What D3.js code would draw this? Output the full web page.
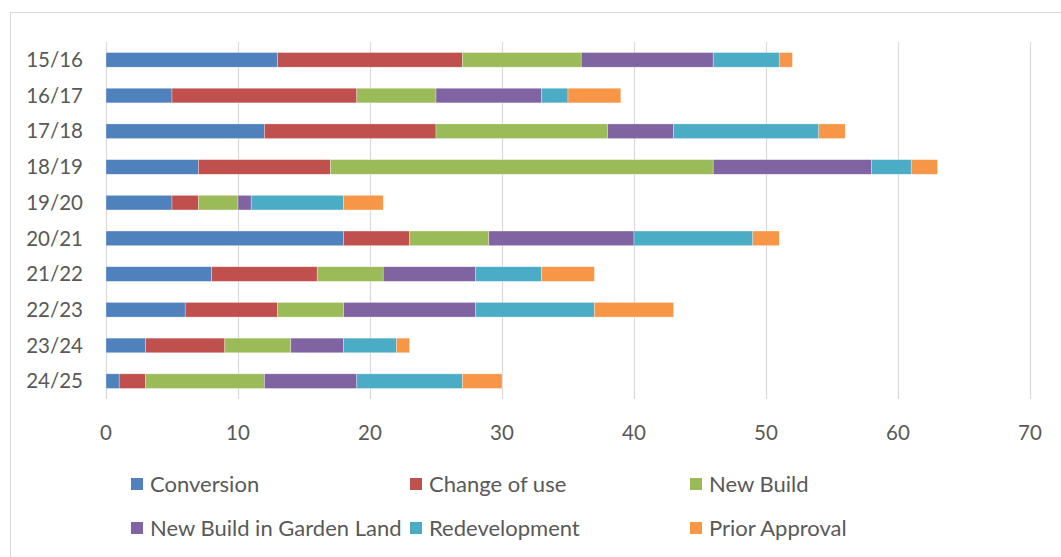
<!DOCTYPE html>
<html>
<head>
<meta charset="utf-8">
<script src="https://cdn.jsdelivr.net/npm/d3@7"></script>
<style>
  body { margin: 0; background: #fff; }
  text { font-family: Lato, "Open Sans", sans-serif; fill: #595959; }
</style>
</head>
<body>
<div id="chart"></div>
<script>
const width = 1061;
const height = 557;

// 年度和分类
const years = ["15/16", "16/17", "17/18", "18/19", "19/20", "20/21", "21/22", "22/23", "23/24", "24/25"];
const categories = ["Conversion", "Change of use", "New Build", "New Build in Garden Land", "Redevelopment", "Prior Approval"];
const colors = ["#4F81BD", "#C0504D", "#9BBB59", "#8064A2", "#4BACC6", "#F79646"];

// 各分类数值（按年度顺序）
const conversion   = [13, 5, 12, 7, 5, 18, 8, 6, 3, 1];
const changeOfUse  = [14, 14, 13, 10, 2, 5, 8, 7, 6, 2];
const newBuild     = [9, 6, 13, 29, 3, 6, 5, 5, 5, 9];
const gardenLand   = [10, 8, 5, 12, 1, 11, 7, 10, 4, 7];
const redevelop    = [5, 2, 11, 3, 7, 9, 5, 9, 4, 8];
const priorApprov  = [1, 4, 2, 2, 3, 2, 4, 6, 1, 3];

const xTicks = [0, 10, 20, 30, 40, 50, 60, 70];

const series = [conversion, changeOfUse, newBuild, gardenLand, redevelop, priorApprov];
const rows = years.map((y, i) => {
  const r = { year: y };
  categories.forEach((c, j) => r[c] = series[j][i]);
  return r;
});
const stacked = d3.stack().keys(categories)(rows);

const svg = d3.select("#chart").append("svg")
  .attr("width", width)
  .attr("height", height);

// 外框
svg.append("rect")
  .attr("x", 10.5).attr("y", 12.5)
  .attr("width", 1060).attr("height", 560)
  .attr("fill", "none")
  .attr("stroke", "#d9d9d9");

const x = d3.scaleLinear().domain([0, 70]).range([106, 1030]);
const y = d3.scaleBand().domain(years).range([42, 399]).paddingInner(0.59).paddingOuter(0.295);

// 网格线
svg.append("g")
  .selectAll("line")
  .data(xTicks)
  .enter().append("line")
  .attr("x1", d => x(d) + 0.5)
  .attr("x2", d => x(d) + 0.5)
  .attr("y1", 42)
  .attr("y2", 399)
  .attr("stroke", "#d9d9d9")
  .attr("stroke-width", 1.2);

// 堆叠条形
svg.append("g")
  .selectAll("g")
  .data(stacked)
  .enter().append("g")
  .attr("fill", (d, i) => colors[i])
  .selectAll("rect")
  .data(d => d)
  .enter().append("rect")
  .attr("x", d => x(d[0]))
  .attr("y", d => y(d.data.year))
  .attr("width", d => x(d[1]) - x(d[0]))
  .attr("height", y.bandwidth())
  .attr("stroke", "#fff")
  .attr("stroke-opacity", 0.5)
  .attr("stroke-width", 0.6);

// x 轴标签
svg.append("g")
  .selectAll("text")
  .data(xTicks)
  .enter().append("text")
  .attr("x", d => x(d))
  .attr("y", 440)
  .attr("text-anchor", "middle")
  .attr("font-size", 20.5)
  .text(d => d);

// y 轴标签
svg.append("g")
  .selectAll("text")
  .data(years)
  .enter().append("text")
  .attr("x", 83)
  .attr("y", d => y(d) + y.bandwidth() / 2)
  .attr("dy", "0.35em")
  .attr("text-anchor", "end")
  .attr("font-size", 20.5)
  .text(d => d);

// 图例
const legendPos = [[131, 484], [410, 484], [690, 484], [131, 528], [410, 528], [690, 528]];
const legend = svg.append("g")
  .selectAll("g")
  .data(categories)
  .enter().append("g")
  .attr("transform", (d, i) => `translate(${legendPos[i][0]},${legendPos[i][1]})`);

legend.append("rect")
  .attr("x", 0).attr("y", -6)
  .attr("width", 12).attr("height", 12)
  .attr("fill", (d, i) => colors[i]);

legend.append("text")
  .attr("x", 19)
  .attr("dy", "0.35em")
  .attr("font-size", 22)
  .text(d => d);
</script>
</body>
</html>
